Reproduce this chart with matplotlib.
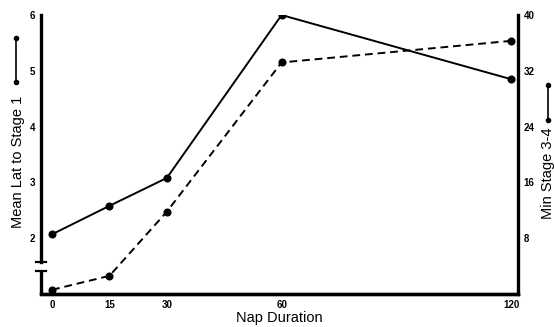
import matplotlib
matplotlib.use("Agg")
import matplotlib.pyplot as plt
from matplotlib.lines import Line2D

plt.rcParams['font.family'] = ['Liberation Sans', 'DejaVu Sans']

nap = [0, 15, 30, 60, 120]
latency = [2.07, 2.58, 3.08, 6.0, 4.85]      # left axis, solid
stage34 = [0.6, 2.6, 11.8, 33.2, 36.3]       # right axis, dashed
xticks = [0, 15, 30, 60, 120]
lticks = [2, 3, 4, 5, 6]
rticks = [8, 16, 24, 32, 40]

fig = plt.figure(figsize=(5.54, 3.27), dpi=100)
ax = fig.add_axes([0.074, 0.101, 0.861, 0.853])
ax2 = ax.twinx()

ax.plot(nap, latency, 'k-', lw=1.4, marker='o', ms=4.8)
ax2.plot(nap, stage34, 'k--', lw=1.4, marker='o', ms=4.8, dashes=(4, 2.5))

ax.set_xlim(-2.9, 121.8)
ax.set_ylim(1, 6)
ax2.set_ylim(0, 40)

ax.set_xticks(xticks)
ax.set_xticklabels([str(t) for t in xticks], fontsize=7, fontweight='bold')
ax.set_yticks(lticks)
ax.set_yticklabels([str(t) for t in lticks], fontsize=7, fontweight='bold')
ax2.set_yticks(rticks)
ax2.set_yticklabels([str(t) for t in rticks], fontsize=7, fontweight='bold')
for a in (ax, ax2):
    a.tick_params(length=0, pad=4)
    a.spines['top'].set_visible(False)
for a in (ax, ax2):
    for s in a.spines.values():
        s.set_linewidth(2.4)
ax2.spines['left'].set_visible(False)
ax.spines['right'].set_visible(False)

# broken left axis
ax.spines['left'].set_bounds(1.57, 6)
ax.plot([-2.9, -2.9], [1, 1.41], 'k-', lw=2.4, clip_on=False, solid_capstyle='butt')
ax.plot([-4.2, -1.6], [1.57, 1.57], 'k-', lw=1.6, clip_on=False)
ax.plot([-4.2, -1.6], [1.41, 1.41], 'k-', lw=1.6, clip_on=False)

ax.set_xlabel('Nap Duration', fontsize=10.5, labelpad=1)
fig.text(0.032, 0.505, 'Mean Lat to Stage 1', rotation=90, fontsize=10.5,
         ha='center', va='center')
fig.text(0.989, 0.47, 'Min Stage 3-4', rotation=90, fontsize=10.5,
         ha='center', va='center')

# legend keys beside the axis titles
fig.add_artist(Line2D([0.029, 0.029], [1 - 38 / 327, 1 - 82 / 327], color='k',
                      lw=1.2, marker='o', ms=3))
fig.add_artist(Line2D([0.989, 0.989], [1 - 85 / 327, 1 - 120 / 327], color='k',
                      lw=1.2, marker='o', ms=3))

fig.savefig('out.png', dpi=100)
